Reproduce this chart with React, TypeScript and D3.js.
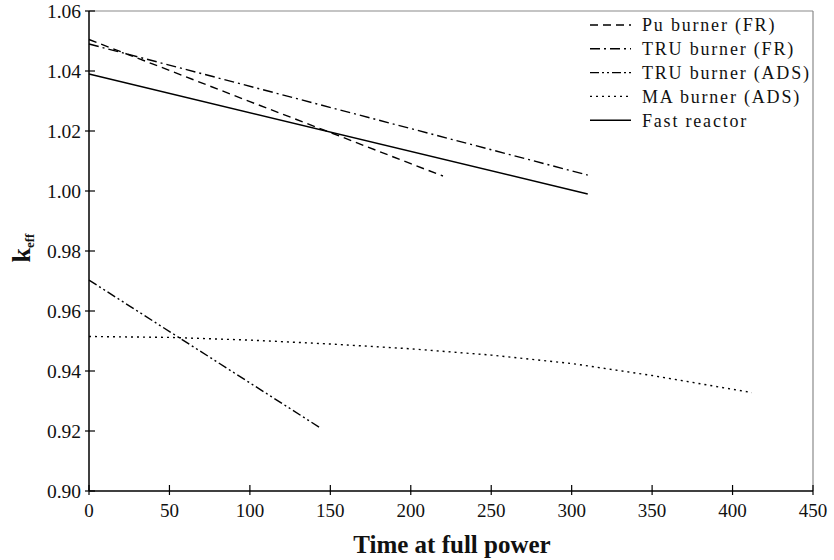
import React from 'react';
import * as d3 from 'd3';

const xTicks = [0, 50, 100, 150, 200, 250, 300, 350, 400, 450];
const yTicks = [0.9, 0.92, 0.94, 0.96, 0.98, 1.0, 1.02, 1.04, 1.06];

const seriesNames = ['Pu burner (FR)', 'TRU burner (FR)', 'TRU burner (ADS)', 'MA burner (ADS)', 'Fast reactor'];

const timePu = [0, 50, 100, 150, 200, 220];
const keffPu = [1.0505, 1.0402, 1.0298, 1.0195, 1.0091, 1.005];

const timeTruFr = [0, 310];
const keffTruFr = [1.049, 1.0053];

const timeTruAds = [0, 143];
const keffTruAds = [0.9703, 0.9213];

const timeMa = [0, 50, 100, 150, 200, 250, 300, 350, 412];
const keffMa = [0.9515, 0.9512, 0.9503, 0.949, 0.9474, 0.9453, 0.9425, 0.9385, 0.9328];

const timeFast = [0, 310];
const keffFast = [1.039, 0.999];

const FONT = '"Liberation Serif", "Times New Roman", serif';

export default function App() {
  const W = 834, H = 560;
  const left = 89, right = 813, top = 11, bottom = 491;
  const x = d3.scaleLinear().domain([0, 450]).range([left, right]);
  const y = d3.scaleLinear().domain([0.9, 1.06]).range([bottom, top]);

  const series = [
    { name: seriesNames[0], t: timePu, k: keffPu, dash: '8,5' },
    { name: seriesNames[1], t: timeTruFr, k: keffTruFr, dash: '10,4,2,4' },
    { name: seriesNames[2], t: timeTruAds, k: keffTruAds, dash: '9,3,2,3,2,3' },
    { name: seriesNames[3], t: timeMa, k: keffMa, dash: '2,4' },
    { name: seriesNames[4], t: timeFast, k: keffFast, dash: null as string | null },
  ];

  const line = d3.line<[number, number]>().x(d => x(d[0])).y(d => y(d[1]));

  return (
    <svg width={W} height={H} style={{ position: 'absolute', left: 0, top: 0, background: '#fff' }}>
      <line x1={left} x2={right} y1={top} y2={top} stroke="#8a8a8a" strokeWidth={1.2} />
      <line x1={right} x2={right} y1={top} y2={bottom} stroke="#8a8a8a" strokeWidth={1.2} />
      <line x1={left} x2={left} y1={top} y2={bottom} stroke="#000" strokeWidth={1.5} />
      <line x1={left} x2={right} y1={bottom} y2={bottom} stroke="#000" strokeWidth={1.5} />

      {yTicks.map(v => (
        <g key={'y' + v}>
          <line x1={left - 4} x2={left + 6} y1={y(v)} y2={y(v)} stroke="#000" strokeWidth={1.2} />
          <text x={left - 8} y={y(v)} dy="0.35em" textAnchor="end" fontFamily={FONT} fontSize={19.5} fill="#111">
            {v.toFixed(2)}
          </text>
        </g>
      ))}
      {xTicks.map(v => (
        <g key={'x' + v}>
          <line x1={x(v)} x2={x(v)} y1={bottom - 6} y2={bottom + 4} stroke="#000" strokeWidth={1.2} />
          <text x={x(v)} y={bottom + 26} textAnchor="middle" fontFamily={FONT} fontSize={19} fill="#111">
            {v}
          </text>
        </g>
      ))}

      {series.map(s => (
        <path
          key={s.name}
          d={line(s.t.map((t, i) => [t, s.k[i]] as [number, number])) || ''}
          fill="none"
          stroke="#000"
          strokeWidth={1.4}
          strokeDasharray={s.dash || undefined}
        />
      ))}

      {series.map((s, i) => (
        <g key={'lg' + s.name} transform={`translate(0, ${25 + i * 23.8})`}>
          <line x1={590} x2={631} y1={0} y2={0} stroke="#000" strokeWidth={1.4} strokeDasharray={s.dash || undefined} />
          <text x={642} y={0} dy="0.35em" fontFamily={FONT} fontSize={18} letterSpacing={1.8} fill="#111">
            {s.name}
          </text>
        </g>
      ))}

      <text x={452} y={553} textAnchor="middle" fontFamily={FONT} fontSize={25} fontWeight="bold" fill="#111">
        Time at full power
      </text>
      <text transform="translate(30, 248) rotate(-90)" textAnchor="middle" fontFamily={FONT} fontWeight="bold" fill="#111">
        <tspan fontSize={26}>k</tspan>
        <tspan fontSize={13} dy={4}>eff</tspan>
      </text>
    </svg>
  );
}
